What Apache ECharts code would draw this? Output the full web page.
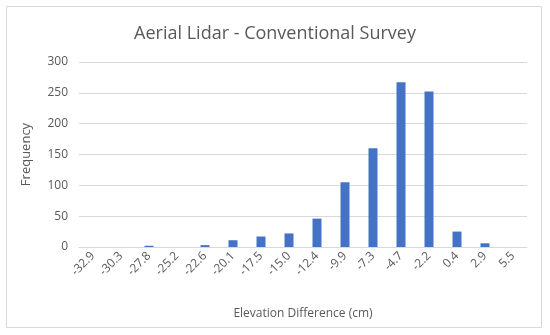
<!DOCTYPE html>
<html>
<head>
<meta charset="utf-8">
<script src="https://cdn.jsdelivr.net/npm/echarts@6/dist/echarts.min.js"></script>
<style>html,body{margin:0;padding:0;background:#fff}#c{width:550px;height:335px}</style>
</head>
<body>
<div id="c"></div>
<script>
var categories = ['-32.9','-30.3','-27.8','-25.2','-22.6','-20.1','-17.5','-15.0','-12.4','-9.9','-7.3','-4.7','-2.2','0.4','2.9','5.5'];
var frequency = [0, 0, 2, 0, 3, 11, 17, 22, 46, 105, 160, 267, 252, 25, 6, 0];
var yTicks = [0, 300, 50];

var chart = echarts.init(document.getElementById('c'), null, {renderer: 'canvas'});
var font = '"Open Sans", sans-serif';
chart.setOption({
  animation: false,
  graphic: [{
    type: 'rect', shape: {x: 6.5, y: 6.5, width: 535, height: 321},
    style: {fill: 'none', stroke: '#d9d9d9', lineWidth: 1}
  }],
  title: {
    text: 'Aerial Lidar - Conventional Survey', left: 'center', top: 20,
    textStyle: {fontFamily: font, fontSize: 18, fontWeight: 'normal', color: '#595959'}
  },
  grid: {left: 79, right: 23, top: 62, bottom: 88},
  xAxis: {
    type: 'category', data: categories,
    name: 'Elevation Difference (cm)', nameLocation: 'middle', nameGap: 61,
    nameTextStyle: {fontFamily: font, fontSize: 12, color: '#595959'},
    axisLine: {lineStyle: {color: '#d9d9d9'}},
    axisTick: {show: false},
    axisLabel: {rotate: 45, interval: 0, fontFamily: font, fontSize: 12, color: '#595959', margin: 7}
  },
  yAxis: {
    type: 'value', min: yTicks[0], max: yTicks[1], interval: yTicks[2],
    name: 'Frequency', nameLocation: 'middle', nameGap: 46,
    nameTextStyle: {fontFamily: font, fontSize: 13, color: '#595959'},
    axisLine: {show: false}, axisTick: {show: false},
    axisLabel: {fontFamily: font, fontSize: 12, color: '#595959', margin: 11},
    splitLine: {lineStyle: {color: '#d9d9d9'}}
  },
  series: [{
    type: 'bar', data: frequency, barWidth: 9,
    itemStyle: {color: '#4472c4'}
  }]
});
</script>
</body>
</html>
